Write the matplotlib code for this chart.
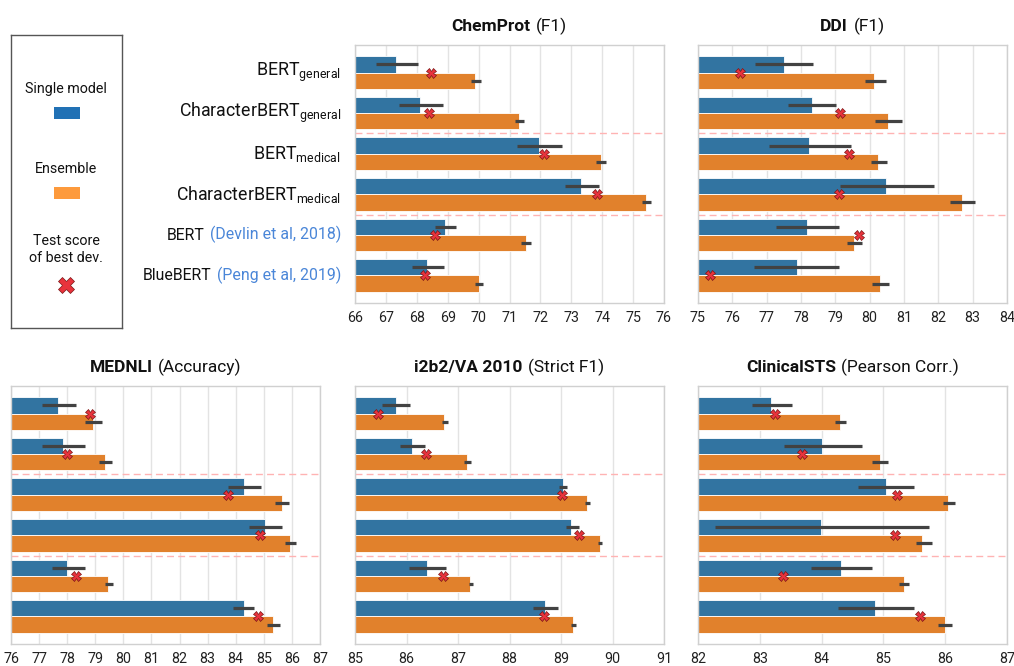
import matplotlib
matplotlib.use('Agg')
import matplotlib.pyplot as plt
import numpy as np
from matplotlib.offsetbox import TextArea, HPacker, AnnotationBbox
from matplotlib.patches import Rectangle

plt.rcParams['font.family'] = ['Roboto', 'DejaVu Sans']
plt.rcParams['mathtext.fontset'] = 'custom'
plt.rcParams['mathtext.rm'] = 'Roboto'
plt.rcParams['mathtext.it'] = 'Roboto:italic'
plt.rcParams['mathtext.bf'] = 'Roboto:bold'

# ---------------- data ----------------
model_names = [r"BERT$_{\mathrm{general}}$", r"CharacterBERT$_{\mathrm{general}}$",
               r"BERT$_{\mathrm{medical}}$", r"CharacterBERT$_{\mathrm{medical}}$",
               "BERT", "BlueBERT"]
citations = ["", "", "", "", "(Devlin et al, 2018)", "(Peng et al, 2019)"]

task_names = ["ChemProt", "DDI", "MEDNLI", "i2b2/VA 2010", "ClinicalSTS"]
task_metrics = ["(F1)", "(F1)", "(Accuracy)", "(Strict F1)", "(Pearson Corr.)"]
task_xmin = [66, 75, 76, 85, 82]
task_xmax = [76, 84, 87, 91, 87]

chemprot_single = [67.34, 68.11, 71.95, 73.32, 68.92, 68.32]
chemprot_single_lo = [66.69, 67.42, 71.25, 72.78, 68.60, 67.83]
chemprot_single_hi = [68.03, 68.84, 72.69, 73.90, 69.28, 68.88]
chemprot_ens = [69.89, 71.31, 73.95, 75.41, 71.52, 70.00]
chemprot_ens_lo = [69.74, 71.18, 73.81, 75.28, 71.37, 69.89]
chemprot_ens_hi = [70.08, 71.48, 74.12, 75.57, 71.70, 70.14]
chemprot_best = [68.45, 68.40, 72.11, 73.83, 68.58, 68.25]

ddi_single = [77.50, 78.31, 78.24, 80.49, 78.18, 77.87]
ddi_single_lo = [76.67, 77.62, 77.06, 79.14, 77.27, 76.64]
ddi_single_hi = [78.35, 79.02, 79.45, 81.88, 79.12, 79.12]
ddi_ens = [80.14, 80.53, 80.25, 82.70, 79.53, 80.29]
ddi_ens_lo = [79.87, 80.15, 80.03, 82.35, 79.33, 80.06]
ddi_ens_hi = [80.47, 80.93, 80.50, 83.07, 79.77, 80.55]
ddi_best = [76.22, 79.14, 79.40, 79.10, 79.69, 75.35]

mednli_single = [77.68, 77.86, 84.29, 85.05, 78.01, 84.28]
mednli_single_lo = [77.10, 77.10, 83.72, 84.48, 77.46, 83.91]
mednli_single_hi = [78.31, 78.65, 84.90, 85.66, 78.63, 84.66]
mednli_ens = [78.91, 79.34, 85.63, 85.93, 79.45, 85.32]
mednli_ens_lo = [78.64, 79.14, 85.40, 85.76, 79.34, 85.13]
mednli_ens_hi = [79.23, 79.58, 85.90, 86.15, 79.62, 85.57]
mednli_best = [78.82, 77.99, 83.74, 84.88, 78.33, 84.80]

i2b2_single = [85.79, 86.11, 89.03, 89.20, 86.40, 88.69]
i2b2_single_lo = [85.53, 85.87, 88.96, 89.09, 86.05, 88.45]
i2b2_single_hi = [86.07, 86.36, 89.11, 89.34, 86.77, 88.94]
i2b2_ens = [86.73, 87.17, 89.51, 89.75, 87.24, 89.23]
i2b2_ens_lo = [86.68, 87.11, 89.47, 89.71, 87.21, 89.20]
i2b2_ens_hi = [86.80, 87.25, 89.57, 89.80, 87.30, 89.30]
i2b2_best = [85.45, 86.38, 89.02, 89.34, 86.71, 88.67]

sts_single = [83.18, 84.01, 85.04, 83.99, 84.32, 84.87]
sts_single_lo = [82.87, 83.39, 84.59, 82.27, 83.83, 84.26]
sts_single_hi = [83.52, 84.66, 85.49, 85.73, 84.82, 85.50]
sts_ens = [84.30, 84.94, 86.05, 85.63, 85.33, 85.99]
sts_ens_lo = [84.22, 84.82, 85.96, 85.52, 85.26, 85.89]
sts_ens_hi = [84.39, 85.07, 86.16, 85.78, 85.42, 86.11]
sts_best = [83.24, 83.68, 85.22, 85.19, 83.38, 85.59]

tasks = [
    (chemprot_single, chemprot_single_lo, chemprot_single_hi, chemprot_ens, chemprot_ens_lo, chemprot_ens_hi, chemprot_best),
    (ddi_single, ddi_single_lo, ddi_single_hi, ddi_ens, ddi_ens_lo, ddi_ens_hi, ddi_best),
    (mednli_single, mednli_single_lo, mednli_single_hi, mednli_ens, mednli_ens_lo, mednli_ens_hi, mednli_best),
    (i2b2_single, i2b2_single_lo, i2b2_single_hi, i2b2_ens, i2b2_ens_lo, i2b2_ens_hi, i2b2_best),
    (sts_single, sts_single_lo, sts_single_hi, sts_ens, sts_ens_lo, sts_ens_hi, sts_best),
]

# ---------------- style ----------------
BLUE = '#3274a1'
ORANGE = '#e1812c'
LEG_BLUE = '#2171b5'
LEG_ORANGE = '#fd9a3c'
ERR = '#424242'
XRED = '#e8333c'
XEDGE = '#7a1515'

W, H = 1014, 666
fig = plt.figure(figsize=(W / 100, H / 100), dpi=100)

def fx(px):
    return px / W

def fy(py):
    return 1 - py / H

ax_h = 258 / H
ax_w = 309 / W
positions = [
    (fx(355), fy(303)), (fx(698), fy(303)),
    (fx(11), fy(644)), (fx(355), fy(644)), (fx(698), fy(644)),
]

y = np.arange(len(model_names))
axes = []
for i, (pos, data) in enumerate(zip(positions, tasks)):
    ax = fig.add_axes([pos[0], pos[1], ax_w, ax_h])
    axes.append(ax)
    single, slo, shi, ens, elo, ehi, best = data
    ax.barh(y - 0.2, single, height=0.4, color=BLUE, edgecolor='white', linewidth=0.6, zorder=2)
    ax.barh(y + 0.2, ens, height=0.4, color=ORANGE, edgecolor='white', linewidth=0.6, zorder=2)
    ax.hlines(y - 0.2, slo, shi, color=ERR, linewidth=2.3, zorder=3)
    ax.hlines(y + 0.2, elo, ehi, color=ERR, linewidth=2.3, zorder=3)
    ax.plot(best, y, linestyle='none', marker='X', markersize=7, markerfacecolor=XRED,
            markeredgecolor=XEDGE, markeredgewidth=0.5, zorder=4)
    for yy in (1.5, 3.5):
        ax.axhline(yy, color='#ffb3b3', linestyle=(0, (5, 3)), linewidth=1.0, zorder=1)
    ax.set_xlim(task_xmin[i], task_xmax[i])
    ax.set_ylim(5.68, -0.68)
    ax.set_xticks(np.arange(task_xmin[i], task_xmax[i] + 1))
    ax.set_yticks(y)
    ax.set_yticklabels([])
    ax.tick_params(axis='both', length=0, labelsize=10.3, colors='#222222', pad=6)
    ax.tick_params(axis='y', pad=0)
    ax.grid(axis='x', color='#e3e3e3', linewidth=1.0, zorder=0)
    ax.set_axisbelow(True)
    for s in ax.spines.values():
        s.set_color('#d0d0d0')
        s.set_linewidth(1.0)

    title = HPacker(children=[
        TextArea(task_names[i], textprops=dict(fontsize=12.5, fontweight='bold', color='#111111')),
        TextArea(task_metrics[i], textprops=dict(fontsize=12.5, color='#111111'))],
        sep=4, align='baseline', pad=0)
    ab = AnnotationBbox(title, (0.5, 1.0), xycoords='axes fraction', xybox=(0, 7),
                        boxcoords='offset points', box_alignment=(0.5, 0), frameon=False, pad=0)
    ax.add_artist(ab)

# y labels on ChemProt panel
ax0 = axes[0]
for yi, (name, cit) in enumerate(zip(model_names, citations)):
    fs = 11.4 if cit else 12.8
    children = [TextArea(name, textprops=dict(fontsize=fs, color='#111111'))]
    if cit:
        children.append(TextArea(cit, textprops=dict(fontsize=fs, color='#4a86d8')))
    box = HPacker(children=children, sep=4, align='baseline', pad=0)
    ab = AnnotationBbox(box, (0, yi), xycoords=('axes fraction', 'data'), xybox=(-10, 0),
                        boxcoords='offset points', box_alignment=(1, 0.5), frameon=False, pad=0,
                        annotation_clip=False)
    ax0.add_artist(ab)

# legend box
lax = fig.add_axes([fx(11), fy(328), 111 / W, 293 / H])
lax.set_xlim(0, 1)
lax.set_ylim(0, 1)
lax.set_xticks([])
lax.set_yticks([])
for s in lax.spines.values():
    s.set_color('#555555')
    s.set_linewidth(1.0)
cx = 0.495
lax.text(cx, 0.816, "Single model", ha='center', va='center', fontsize=10.3, color='#111111')
lax.add_patch(Rectangle((0.387, 0.734 - 0.0205), 0.235, 0.041, facecolor=LEG_BLUE, edgecolor='none'))
lax.text(cx, 0.543, "Ensemble", ha='center', va='center', fontsize=10.3, color='#111111')
lax.add_patch(Rectangle((0.387, 0.461 - 0.0205), 0.235, 0.041, facecolor=LEG_ORANGE, edgecolor='none'))
lax.text(cx, 0.268, "Test score\nof best dev.", ha='center', va='center', fontsize=10.3,
         color='#111111', linespacing=1.25)
lax.plot([cx], [0.147], linestyle='none', marker='X', markersize=12, markerfacecolor=XRED,
         markeredgecolor=XEDGE, markeredgewidth=0.5)

fig.savefig('out.png', dpi=100)
